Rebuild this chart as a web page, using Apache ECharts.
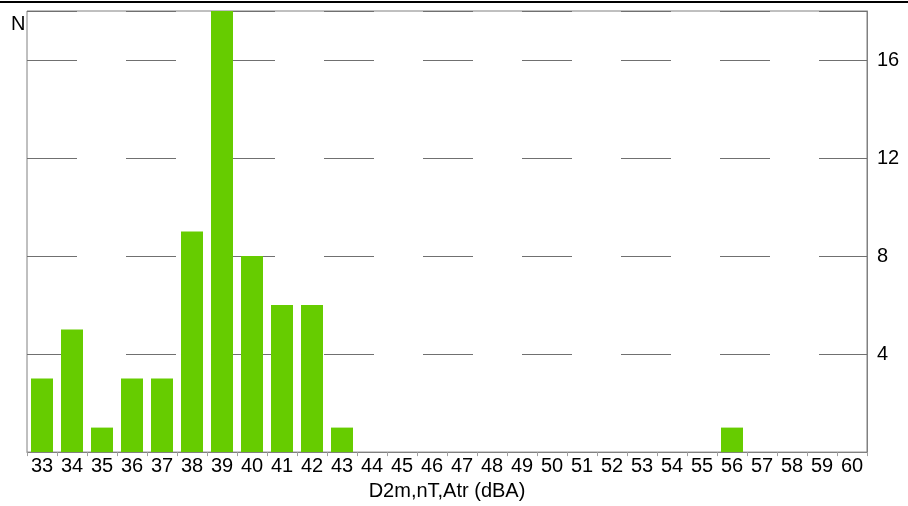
<!DOCTYPE html>
<html>
<head>
<meta charset="utf-8">
<script src="https://cdn.jsdelivr.net/npm/echarts@6/dist/echarts.min.js"></script>
<style>
html,body{margin:0;padding:0;background:#fff;overflow:hidden;}
#chart{width:908px;height:506px;}
</style>
</head>
<body>
<div id="chart"></div>
<script>
const categories = ['33','34','35','36','37','38','39','40','41','42','43','44','45','46','47','48','49','50','51','52','53','54','55','56','57','58','59','60'];
const counts = [3,5,1,3,3,9,18,8,6,6,1,0,0,0,0,0,0,0,0,0,0,0,0,1,0,0,0,0];
const yTicks = [4,8,12,16];
const xName = 'D2m,nT,Atr (dBA)';
const yName = 'N';

const chart = echarts.init(document.getElementById('chart'), null, {renderer:'canvas'});
const font = 'Liberation Sans, Arial, sans-serif';
chart.setOption({
  animation:false,
  backgroundColor:'#fff',
  grid:{left:27,right:41,top:11,bottom:49,show:true,borderColor:'#808080',borderWidth:1,containLabel:false},
  graphic:[
    {type:'line',shape:{x1:0,y1:2,x2:908,y2:2},style:{stroke:'#000',lineWidth:2},silent:true},
    {type:'text',left:11,top:14,style:{text:yName,fontSize:20,fontFamily:font,fill:'#000'}}
  ],
  xAxis:{
    type:'category',
    data:categories,
    name:xName,
    nameLocation:'middle',
    nameGap:25,
    nameTextStyle:{fontSize:20,fontFamily:font,color:'#000'},
    axisLine:{show:true,lineStyle:{color:'#808080',width:1}},
    axisTick:{show:true,length:4,lineStyle:{color:'#a0a0a0'}},
    axisLabel:{interval:0,fontSize:20,fontFamily:font,color:'#000',margin:4}
  },
  yAxis:{
    type:'value',
    position:'right',
    min:0,max:18,interval:4,
    axisLine:{show:true,lineStyle:{color:'#808080',width:1}},
    axisTick:{show:false},
    axisLabel:{fontSize:20,fontFamily:font,color:'#000',margin:10,showMinLabel:false,showMaxLabel:false,
      formatter:function(v){return yTicks.indexOf(v)>=0?String(v):'';}},
    splitLine:{show:true,lineStyle:{color:'#707070',width:1,type:[50,49]}}
  },
  series:[{
    type:'bar',
    data:counts,
    barWidth:22,
    itemStyle:{color:'#66cc00'}
  }]
});
</script>
</body>
</html>
